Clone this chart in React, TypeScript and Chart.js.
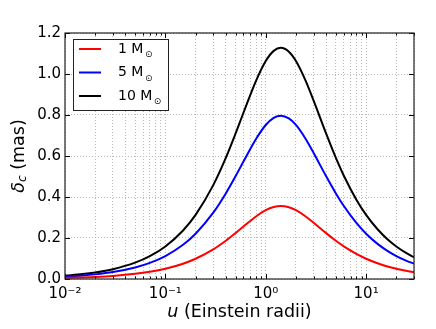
import React, { useEffect, useRef } from "react";
import { Chart, registerables } from "chart.js";

Chart.register(...registerables);

// impact parameter u (Einstein radii)
const uValues = [
  0.01, 0.015, 0.02, 0.03, 0.05, 0.07, 0.1, 0.15, 0.2, 0.3, 0.4, 0.5, 0.6, 0.8,
  1.0, 1.2, 1.414, 1.7, 2.0, 2.5, 3, 4, 5, 6, 8, 10, 13, 16, 20, 25, 30,
];

// centroid shift delta_c (mas)
const delta1Msun = [
  0.00503, 0.00755, 0.01007, 0.0151, 0.02514, 0.03516, 0.0501, 0.07468, 0.09873,
  0.14455, 0.18648, 0.22378, 0.25602, 0.30515, 0.33567, 0.35128, 0.35603, 0.35008,
  0.33567, 0.30515, 0.27464, 0.22378, 0.18648, 0.159, 0.12206, 0.09873, 0.07656,
  0.06245, 0.0501, 0.04015, 0.03349,
];
const delta5Msun = [
  0.01127, 0.0169, 0.02254, 0.03379, 0.05628, 0.0787, 0.11214, 0.16717, 0.22098,
  0.32354, 0.41741, 0.50089, 0.57305, 0.68303, 0.75133, 0.78628, 0.79691, 0.7836,
  0.75133, 0.68303, 0.61473, 0.50089, 0.41741, 0.3559, 0.27321, 0.22098, 0.17136,
  0.13978, 0.11214, 0.08987, 0.07497,
];
const delta10Msun = [
  0.01595, 0.02392, 0.03189, 0.04783, 0.07965, 0.11138, 0.15871, 0.23659, 0.31274,
  0.4579, 0.59074, 0.70889, 0.81102, 0.96667, 1.06333, 1.11279, 1.12783, 1.109,
  1.06333, 0.96667, 0.87, 0.70889, 0.59074, 0.50369, 0.38667, 0.31274, 0.24251,
  0.19783, 0.15871, 0.12719, 0.1061,
];

const seriesNames = ["1 M", "5 M", "10 M"];
const seriesColors = ["#ff0000", "#0000ff", "#000000"];

const xTickValues = [
  0.01, 0.02, 0.03, 0.04, 0.05, 0.06, 0.07, 0.08, 0.09,
  0.1, 0.2, 0.3, 0.4, 0.5, 0.6, 0.7, 0.8, 0.9,
  1, 2, 3, 4, 5, 6, 7, 8, 9,
  10, 20, 30,
];
const xMajorValues = [0.01, 0.1, 1, 10];
const xMajorLabels = ["10⁻²", "10⁻¹", "10⁰", "10¹"];
const yTickValues = [0, 0.2, 0.4, 0.6, 0.8, 1.0, 1.2];

const FONT = "'DejaVu Sans', sans-serif";

function isMajor(v: number) {
  return xMajorValues.some((m) => Math.abs(m - v) < 1e-9);
}

const decorPlugin = {
  id: "decor",
  afterDraw(chart: any) {
    const ctx: CanvasRenderingContext2D = chart.ctx;
    const a = chart.chartArea;
    const xs = chart.scales.x;
    const ys = chart.scales.y;
    ctx.save();

    // inner ticks
    ctx.strokeStyle = "#000";
    ctx.lineWidth = 1;
    ctx.beginPath();
    for (const v of xTickValues) {
      const px = Math.round(xs.getPixelForValue(v)) + 0.5;
      const len = isMajor(v) ? 5 : 2.5;
      ctx.moveTo(px, a.bottom);
      ctx.lineTo(px, a.bottom - len);
      ctx.moveTo(px, a.top);
      ctx.lineTo(px, a.top + len);
    }
    for (const v of yTickValues) {
      const py = Math.round(ys.getPixelForValue(v)) + 0.5;
      ctx.moveTo(a.left, py);
      ctx.lineTo(a.left + 5, py);
      ctx.moveTo(a.right, py);
      ctx.lineTo(a.right - 5, py);
    }
    ctx.stroke();

    // frame
    ctx.strokeStyle = "#222";
    ctx.lineWidth = 1.2;
    ctx.strokeRect(a.left, a.top, a.right - a.left, a.bottom - a.top);

    // legend
    const lx = 73, ly = 39, lw = 95, lh = 71;
    ctx.fillStyle = "#fff";
    ctx.fillRect(lx, ly, lw, lh);
    ctx.strokeStyle = "#222";
    ctx.lineWidth = 1;
    ctx.strokeRect(lx + 0.5, ly + 0.5, lw, lh);
    const rowY = [49, 72.5, 96];
    chart.data.datasets.forEach((ds: any, i: number) => {
      const y = rowY[i];
      ctx.strokeStyle = ds.borderColor;
      ctx.lineWidth = 2;
      ctx.beginPath();
      ctx.moveTo(79, y);
      ctx.lineTo(101, y);
      ctx.stroke();
      ctx.fillStyle = "#000";
      ctx.font = `14px ${FONT}`;
      ctx.textBaseline = "middle";
      ctx.textAlign = "left";
      ctx.fillText(ds.label, 118, y);
      const w = ctx.measureText(ds.label).width;
      ctx.font = `9px ${FONT}`;
      ctx.fillText("⊙", 118 + w + 1.5, y + 6);
    });

    // x axis title
    ctx.fillStyle = "#000";
    ctx.textBaseline = "middle";
    ctx.textAlign = "left";
    const xt1 = "u";
    const xt2 = " (Einstein radii)";
    ctx.font = `italic 17.5px ${FONT}`;
    const w1 = ctx.measureText(xt1).width;
    ctx.font = `17.5px ${FONT}`;
    const w2 = ctx.measureText(xt2).width;
    const cx = (a.left + a.right) / 2;
    const sx = cx - (w1 + w2) / 2;
    ctx.font = `italic 17.5px ${FONT}`;
    ctx.fillText(xt1, sx, 312);
    ctx.font = `17.5px ${FONT}`;
    ctx.fillText(xt2, sx + w1, 312);

    // y axis title
    ctx.save();
    const cy = (a.top + a.bottom) / 2;
    ctx.translate(19, cy);
    ctx.rotate(-Math.PI / 2);
    ctx.font = `italic 17.5px ${FONT}`;
    const d1 = ctx.measureText("δ").width;
    ctx.font = `italic 12px ${FONT}`;
    const d2 = ctx.measureText("c").width;
    ctx.font = `17.5px ${FONT}`;
    const d3 = ctx.measureText(" (mas)").width;
    const tx = -(d1 + d2 + d3) / 2;
    ctx.font = `italic 17.5px ${FONT}`;
    ctx.fillText("δ", tx, 0);
    ctx.font = `italic 12px ${FONT}`;
    ctx.fillText("c", tx + d1, 4);
    ctx.font = `17.5px ${FONT}`;
    ctx.fillText(" (mas)", tx + d1 + d2, 0);
    ctx.restore();

    ctx.restore();
  },
};

export default function App() {
  const ref = useRef<HTMLCanvasElement | null>(null);
  useEffect(() => {
    if (!ref.current) return;
    const series = [delta1Msun, delta5Msun, delta10Msun];
    const chart = new Chart(ref.current, {
      type: "line",
      data: {
        datasets: series.map((vals, i) => ({
          label: seriesNames[i],
          data: uValues.map((u, j) => ({ x: u, y: vals[j] })),
          borderColor: seriesColors[i],
          backgroundColor: seriesColors[i],
          borderWidth: 2,
          pointRadius: 0,
          fill: false,
          cubicInterpolationMode: "monotone" as const,
        })),
      },
      options: {
        animation: false,
        responsive: true,
        maintainAspectRatio: false,
        layout: { padding: { top: 33, right: 22, left: 0, bottom: 0 } },
        plugins: { legend: { display: false }, tooltip: { enabled: false } },
        scales: {
          x: {
            type: "logarithmic",
            min: 0.01,
            max: 30,
            afterBuildTicks: (scale: any) => {
              scale.ticks = xTickValues.map((v) => ({ value: v, major: isMajor(v) }));
            },
            afterFit: (scale: any) => {
              scale.height = 50;
            },
            ticks: {
              autoSkip: false,
              maxRotation: 0,
              minRotation: 0,
              padding: 6,
              color: "#000",
              font: { family: FONT, size: 15 },
              callback: (v: any) => {
                const idx = xMajorValues.findIndex((m) => Math.abs(m - Number(v)) < 1e-9);
                return idx >= 0 ? xMajorLabels[idx] : "";
              },
            },
            grid: { color: "#b8b8b8", lineWidth: 1, drawTicks: false },
            border: { display: false, dash: [1, 2] },
          },
          y: {
            type: "linear",
            min: 0,
            max: 1.2,
            afterBuildTicks: (scale: any) => {
              scale.ticks = yTickValues.map((v) => ({ value: v }));
            },
            afterFit: (scale: any) => {
              scale.width = 65;
            },
            ticks: {
              padding: 4,
              color: "#000",
              font: { family: FONT, size: 15 },
              callback: (v: any) => Number(v).toFixed(1),
            },
            grid: { color: "#b8b8b8", lineWidth: 1, drawTicks: false },
            border: { display: false, dash: [1, 2] },
          },
        },
      },
      plugins: [decorPlugin],
    });
    return () => chart.destroy();
  }, []);
  return (
    <div style={{ position: "fixed", left: 0, top: 0, width: 436, height: 329, background: "#fff" }}>
      <canvas ref={ref} />
    </div>
  );
}
